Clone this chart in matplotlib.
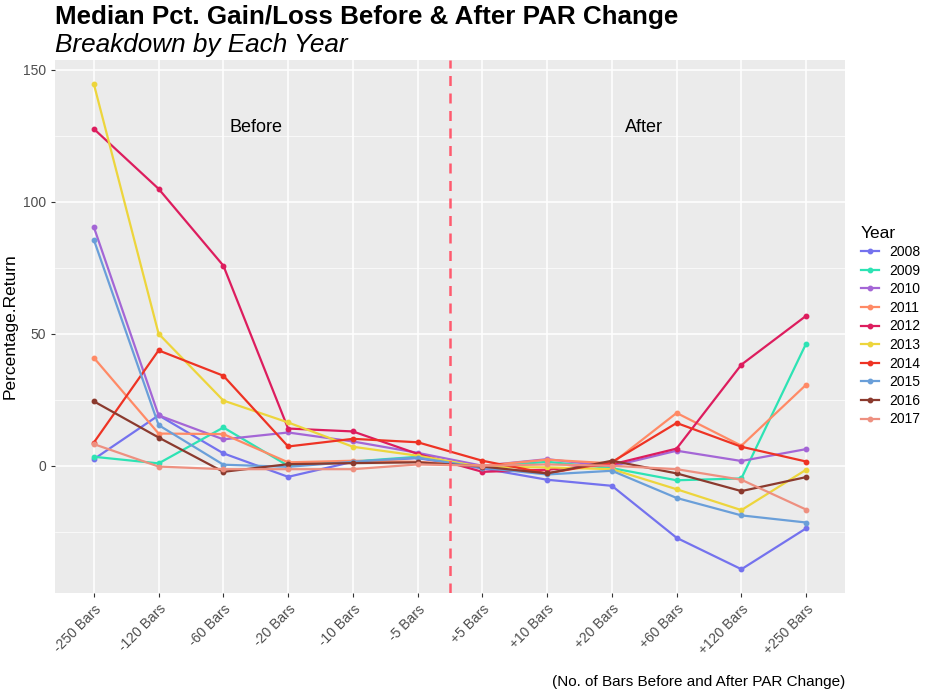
import matplotlib

matplotlib.use("Agg")
import matplotlib.pyplot as plt
from matplotlib.ticker import MultipleLocator

plt.rcParams["font.family"] = ["Liberation Sans", "DejaVu Sans"]

BARS = ["-250 Bars", "-120 Bars", "-60 Bars", "-20 Bars", "-10 Bars", "-5 Bars",
        "+5 Bars", "+10 Bars", "+20 Bars", "+60 Bars", "+120 Bars", "+250 Bars"]

Y2008 = [2.5, 19.1, 4.7, -4.2, 1.5, 2.9, -1.0, -5.3, -7.6, -27.3, -39.2, -23.7]
Y2009 = [3.4, 0.9, 14.5, 0.0, 1.6, 3.4, -0.5, 1.5, -0.9, -5.5, -4.8, 46.3]
Y2010 = [90.4, 19.1, 10.0, 12.6, 9.2, 4.9, 0.0, 2.5, -0.2, 5.7, 1.8, 6.3]
Y2011 = [40.9, 12.2, 12.0, 1.3, 1.9, 1.5, 0.0, 2.3, 0.9, 20.0, 7.6, 30.7]
Y2012 = [127.6, 104.9, 75.8, 14.1, 13.0, 4.5, -2.3, -1.5, 0.5, 6.5, 38.3, 56.8]
Y2013 = [144.6, 50.0, 24.7, 16.4, 7.2, 3.8, -0.5, -0.6, -1.3, -8.9, -16.8, -1.5]
Y2014 = [8.8, 43.7, 34.1, 7.3, 10.2, 8.9, 1.9, -2.9, 1.4, 16.2, 7.2, 1.6]
Y2015 = [85.6, 15.4, 0.4, -0.4, 1.5, 3.1, -0.8, -3.3, -1.9, -12.2, -18.8, -21.5]
Y2016 = [24.4, 10.7, -2.3, 0.6, 1.0, 1.3, -0.3, -2.9, 1.9, -2.9, -9.6, -4.3]
Y2017 = [8.2, -0.3, -1.3, -1.3, -1.3, 0.5, 0.0, 0.5, 0.0, -1.3, -5.3, -16.6]

YEARS = ["2008", "2009", "2010", "2011", "2012", "2013", "2014", "2015", "2016", "2017"]
SERIES = [Y2008, Y2009, Y2010, Y2011, Y2012, Y2013, Y2014, Y2015, Y2016, Y2017]
COLORS = ["#7472EE", "#2DE3B4", "#A466D6", "#FF8A66", "#DD1D5E",
          "#EDD53C", "#EE3324", "#6A9FD9", "#8B3A2E", "#EE9080"]

fig = plt.figure(figsize=(9.27, 6.95), dpi=100)
ax = fig.add_axes([55 / 927, 1 - 593 / 695, 790 / 927, 533 / 695])
ax.set_facecolor("#EBEBEB")

x = list(range(1, len(BARS) + 1))
for yr, vals, c in zip(YEARS, SERIES, COLORS):
    ax.plot(x, vals, color=c, lw=1.6, marker="o", markersize=3.2, label=yr, zorder=3)

ax.axvline(6.5, color="#FF5A6E", ls=(0, (4, 3)), lw=1.8, zorder=4)
ax.text(3.5, 128, "Before", fontsize=13, ha="center", va="center", color="black")
ax.text(9.5, 128, "After", fontsize=13, ha="center", va="center", color="black")

ax.set_xlim(0.4, 12.6)
ax.set_ylim(-48.2, 153.7)
ax.set_xticks(x)
ax.set_xticklabels(BARS, rotation=45, ha="right", rotation_mode="anchor",
                   fontsize=10, color="#4D4D4D")
ax.yaxis.set_major_locator(MultipleLocator(50))
ax.yaxis.set_minor_locator(MultipleLocator(25))
ax.tick_params(axis="y", labelsize=10, labelcolor="#4D4D4D", color="#333333", length=3)
ax.tick_params(axis="x", color="#333333", length=3)
ax.tick_params(axis="y", which="minor", length=0)
ax.grid(True, which="major", color="white", lw=1.1, zorder=0)
ax.grid(True, which="minor", axis="y", color="white", lw=0.5, zorder=0)
ax.set_axisbelow(True)
for s in ax.spines.values():
    s.set_visible(False)

ax.set_ylabel("Percentage.Return", fontsize=12.5, color="black", labelpad=4)
fig.text(845 / 927, 1 - 682 / 695, "(No. of Bars Before and After PAR Change)",
         fontsize=11, ha="right", va="center")

fig.text(55 / 927, 1 - 17 / 695, "Median Pct. Gain/Loss Before & After PAR Change",
         fontsize=18.7, fontweight="bold", ha="left", va="center")
fig.text(55 / 927, 1 - 45 / 695, "Breakdown by Each Year",
         fontsize=18.8, fontstyle="italic", ha="left", va="center")

leg = fig.legend(title="Year", loc="upper left", bbox_to_anchor=(855 / 927, 1 - 220 / 695),
                 frameon=False, fontsize=10, title_fontsize=12.5, handlelength=1.3,
                 labelspacing=0.33, borderaxespad=0)
leg._legend_box.align = "left"

fig.savefig("out.png", dpi=100)
